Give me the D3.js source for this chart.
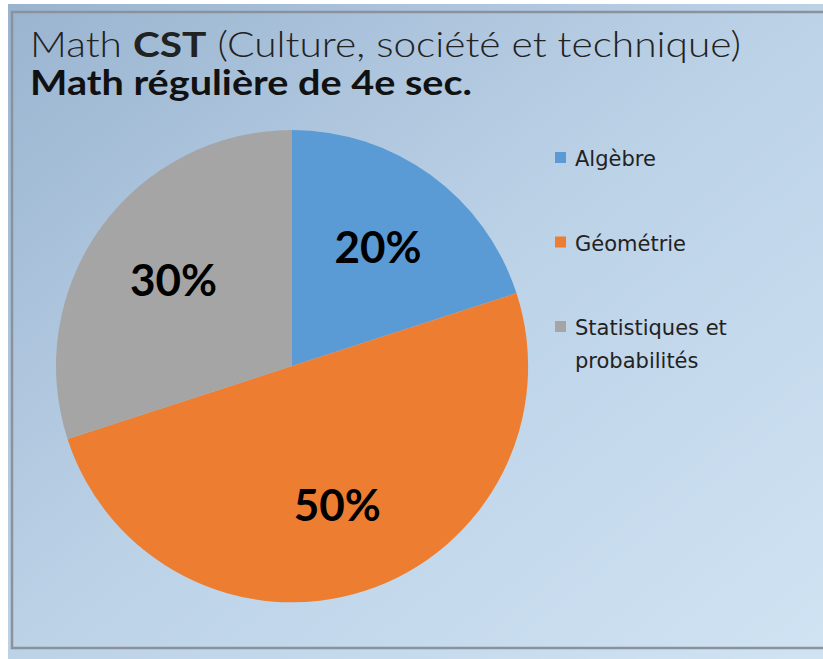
<!DOCTYPE html>
<html>
<head>
<meta charset="utf-8">
<script src="https://cdn.jsdelivr.net/npm/d3@7"></script>
<style>
  html, body { margin: 0; padding: 0; background: #fff; }
  svg { display: block; }
</style>
</head>
<body>
<div id="chart"></div>
<script>
// data
const categories = ["Algèbre", "Géométrie", "Statistiques et probabilités"];
const legendLines = [["Algèbre"], ["Géométrie"], ["Statistiques et", "probabilités"]];
const values = [20, 50, 30];
const colors = ["#5b9bd5", "#ed7d31", "#a5a5a5"];

const width = 823, height = 659;

const svg = d3.select("#chart").append("svg")
  .attr("width", width)
  .attr("height", height);

// background gradient
const defs = svg.append("defs");
const grad = defs.append("linearGradient")
  .attr("id", "bg")
  .attr("x1", 0).attr("y1", 0)
  .attr("x2", 1).attr("y2", 1);
grad.append("stop").attr("offset", "0%").attr("stop-color", "#9ab4d0");
grad.append("stop").attr("offset", "50%").attr("stop-color", "#bcd2e7");
grad.append("stop").attr("offset", "100%").attr("stop-color", "#d0e3f3");

svg.append("rect")
  .attr("x", 8).attr("y", 4)
  .attr("width", width - 8).attr("height", height - 4)
  .attr("fill", "url(#bg)");

// frame
svg.append("rect")
  .attr("x", 12).attr("y", 12)
  .attr("width", width + 20).attr("height", 636)
  .attr("fill", "none")
  .attr("stroke", "#8a929b")
  .attr("stroke-width", 2.5);

// title
const title = svg.append("g").attr("font-family", "Lato, 'Open Sans', sans-serif").attr("fill", "#222");
const t1 = title.append("text")
  .attr("x", 30).attr("y", 57)
  .attr("font-size", 35)
  .attr("font-weight", 300)
  .attr("textLength", 711)
  .attr("lengthAdjust", "spacingAndGlyphs");
t1.append("tspan").text("Math ");
t1.append("tspan").attr("font-weight", "bold").text("CST");
t1.append("tspan").text(" (Culture, société et technique)");

title.append("text")
  .attr("x", 30).attr("y", 95)
  .attr("font-size", 35)
  .attr("font-weight", "bold")
  .attr("fill", "#111")
  .attr("textLength", 442)
  .attr("lengthAdjust", "spacingAndGlyphs")
  .text("Math régulière de 4e sec.");

// pie
const cx = 292, cy = 366, r = 236;
const pie = d3.pie().sort(null).value(d => d);
const arcs = pie(values);
const arc = d3.arc().innerRadius(0).outerRadius(r);

const g = svg.append("g").attr("transform", `translate(${cx},${cy})`);
g.selectAll("path")
  .data(arcs)
  .join("path")
    .attr("d", arc)
    .attr("fill", (d, i) => colors[i]);

// labels
const labelArc = d3.arc().innerRadius(r * 0.62).outerRadius(r * 0.62);
const total = d3.sum(values);
g.selectAll("text.lbl")
  .data(arcs)
  .join("text")
    .attr("class", "lbl")
    .attr("transform", d => `translate(${labelArc.centroid(d)})`)
    .attr("text-anchor", "middle")
    .attr("dy", "0.36em")
    .attr("font-family", "Lato, 'Open Sans', sans-serif")
    .attr("font-weight", "bold")
    .attr("font-size", 44)
    .attr("fill", "#000")
    .text(d => Math.round(d.data / total * 100) + "%");

// legend
const legend = svg.append("g")
  .attr("font-family", "'DejaVu Sans', sans-serif")
  .attr("font-size", 21)
  .attr("fill", "#222");

const ly = d3.scalePoint().domain(categories).range([158, 327]);

const item = legend.selectAll("g")
  .data(categories)
  .join("g")
    .attr("transform", d => `translate(555,${ly(d)})`);

item.append("rect")
  .attr("x", 0).attr("y", -6)
  .attr("width", 11).attr("height", 11)
  .attr("fill", (d, i) => colors[i]);

item.append("text")
  .attr("x", 20)
  .attr("y", 8)
  .selectAll("tspan")
  .data((d, i) => legendLines[i])
  .join("tspan")
    .attr("x", 20)
    .attr("dy", (d, j) => j === 0 ? 0 : 33)
    .text(d => d);
</script>
</body>
</html>
